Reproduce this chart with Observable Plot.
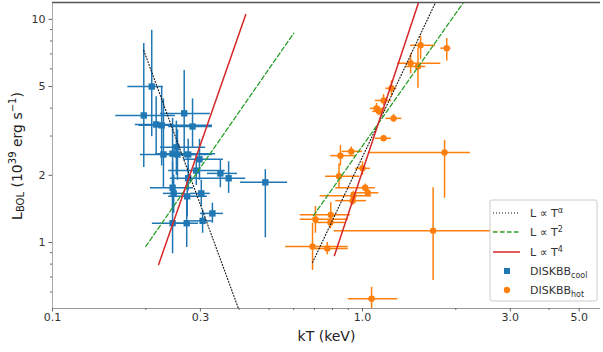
<!DOCTYPE html>
<html><head><meta charset="utf-8">
<script src="https://cdn.jsdelivr.net/npm/d3@7"></script>
<script src="https://cdn.jsdelivr.net/npm/@observablehq/plot@0.6"></script>
<style>body{margin:0;background:#fff;} svg{display:block;}</style>
</head><body><div id="chart"></div>
<script>
// ---- DISKBB cool (blue squares) ----
const coolKT   = [0.209,0.197,0.216,0.225,0.266,0.283,0.228,0.244,0.251,0.253,0.274,0.298,0.291,0.274,0.348,0.370,0.486,0.244,0.246,0.272,0.302,0.328,0.244,0.271,0.305];
const coolL    = [5.00,3.71,3.38,3.35,3.79,3.31,2.48,2.50,2.67,2.48,2.48,2.36,2.10,1.94,2.04,1.94,1.86,1.76,1.66,1.61,1.66,1.35,1.22,1.22,1.25];
const coolKTlo = [0.175,0.160,0.185,0.190,0.223,0.237,0.192,0.215,0.223,0.228,0.249,0.265,0.237,0.240,0.316,0.328,0.404,0.207,0.228,0.237,0.279,0.300,0.210,0.249,0.279];
const coolKThi = [0.228,0.249,0.245,0.328,0.323,0.328,0.244,0.336,0.312,0.289,0.328,0.356,0.361,0.328,0.395,0.420,0.573,0.285,0.268,0.316,0.323,0.356,0.273,0.296,0.328];
const coolLlo  = [2.98,2.17,2.50,2.20,2.40,2.67,1.76,1.70,2.00,1.90,2.10,1.90,1.80,1.70,1.76,1.66,1.05,1.40,1.35,1.30,1.45,1.22,0.89,0.95,1.10];
const coolLhi  = [8.93,7.80,4.50,5.00,5.90,4.40,4.40,3.60,3.50,3.20,2.90,2.90,2.50,2.20,2.33,2.30,2.12,2.30,2.00,2.00,1.90,1.50,1.80,1.60,1.40];

// ---- DISKBB hot (orange circles) ----
const hotKT   = [1.54,1.87,1.43,1.51,1.24,1.17,1.11,1.13,1.26,1.17,0.849,0.92,1.84,1.00,0.84,1.02,1.04,0.935,0.93,0.79,0.705,0.788,1.69,0.69,0.77,1.07];
const hotL    = [7.65,7.43,6.36,6.15,4.91,4.33,3.99,3.87,3.60,2.93,2.45,2.56,2.53,2.15,1.98,1.76,1.67,1.62,1.54,1.33,1.27,1.23,1.13,0.96,0.94,0.56];
const hotKTlo = [1.43,1.79,1.30,1.38,1.19,1.10,1.06,1.08,1.19,1.10,0.79,0.86,1.05,0.95,0.76,0.82,0.92,0.73,0.82,0.63,0.63,0.70,0.81,0.565,0.70,0.90];
const hotKThi = [1.72,1.93,1.79,1.60,1.29,1.24,1.19,1.18,1.34,1.24,0.95,1.00,2.23,1.06,0.98,1.10,1.13,1.07,1.03,0.915,0.90,0.88,2.90,0.90,0.90,1.30];
const hotLlo  = [6.60,6.50,5.70,4.91,4.50,4.10,3.80,3.70,3.45,2.85,2.20,2.45,1.58,2.00,1.74,1.70,1.60,1.55,1.47,1.19,1.10,1.15,0.676,0.749,0.88,0.49];
const hotLhi  = [8.40,8.20,7.00,7.43,5.30,4.60,4.20,4.05,3.75,3.02,2.72,2.68,2.87,2.30,2.25,1.83,1.74,1.70,1.60,1.51,1.45,1.32,1.76,1.22,1.00,0.63];

// ---- model lines (endpoints: [kT, L]) ----
const alphaCool = [[0.197,7.26],[0.398,0.506]];
const t2Cool    = [[0.200,0.96],[0.600,8.66]];
const t4Cool    = [[0.220,0.797],[0.420,10.5]];
const alphaHot  = [[0.690,0.813],[1.720,11.9]];
const t2Hot     = [[0.695,1.32],[2.117,11.9]];
const t4Hot     = [[0.812,0.874],[1.517,11.9]];

// ---- ticks ----
const xMajor = [0.1,0.3,1,3,5];
const xMajorLabels = ["0.1","0.3","1.0","3.0","5.0"];
const xMinor = [0.2,0.4,0.5,0.6,0.7,0.8,0.9,2,4];
const yMajor = [1,2,5,10];
const yMajorLabels = ["1","2","5","10"];
const yMinor = [0.6,0.7,0.8,0.9,3,4,6,7,8,9];

const xLabel = "kT (keV)";
const legendItems = [
  {base:"L ∝ T", script:"α", kind:"sup"},
  {base:"L ∝ T", script:"2", kind:"sup"},
  {base:"L ∝ T", script:"4", kind:"sup"},
  {base:"DISKBB", script:"cool", kind:"sub"},
  {base:"DISKBB", script:"hot", kind:"sub"}
];

const BLUE = "#1f77b4", ORANGE = "#ff7f0e", GREEN = "#2ca02c", RED = "#d62728";

const rows = (kt, l, klo, khi, llo, lhi) => kt.map((k,i)=>({kT:k, L:l[i], kTlo:klo[i], kThi:khi[i], Llo:llo[i], Lhi:lhi[i]}));
const cool = rows(coolKT, coolL, coolKTlo, coolKThi, coolLlo, coolLhi);
const hot  = rows(hotKT, hotL, hotKTlo, hotKThi, hotLlo, hotLhi);

const xTicks = xMajor.map((v,i)=>({v, label: xMajorLabels[i]}));
const yTicks = yMajor.map((v,i)=>({v, label: yMajorLabels[i]}));

const lineMark = (pts, opts) => Plot.line(pts, {x: d=>d[0], y: d=>d[1], clip: true, ...opts});

const plot = Plot.plot({
  width: 603, height: 352,
  marginLeft: 52, marginRight: 3, marginTop: 2, marginBottom: 44,
  style: {fontFamily: "DejaVu Sans", background: "white", color: "#333"},
  x: {type: "log", domain: [0.1, 5.86], label: null},
  y: {type: "log", domain: [0.506, 11.9], label: null},
  marks: [
    Plot.ruleX(cool, {x:"kT", y1:"Llo", y2:"Lhi", stroke: BLUE, strokeWidth: 1.5, clip: true}),
    Plot.ruleY(cool, {y:"L", x1:"kTlo", x2:"kThi", stroke: BLUE, strokeWidth: 1.5, clip: true}),
    Plot.dot(cool, {x:"kT", y:"L", symbol:"square", r: 3.6, fill: BLUE, stroke: "none"}),
    Plot.ruleX(hot, {x:"kT", y1:"Llo", y2:"Lhi", stroke: ORANGE, strokeWidth: 1.5, clip: true}),
    Plot.ruleY(hot, {y:"L", x1:"kTlo", x2:"kThi", stroke: ORANGE, strokeWidth: 1.5, clip: true}),
    Plot.dot(hot, {x:"kT", y:"L", symbol:"circle", r: 3.2, fill: ORANGE, stroke: "none"}),
    lineMark(alphaCool, {stroke:"#111", strokeWidth: 1.1, strokeDasharray: "1,2"}),
    lineMark(alphaHot,  {stroke:"#111", strokeWidth: 1.1, strokeDasharray: "1,2"}),
    lineMark(t2Cool, {stroke: GREEN, strokeWidth: 1.3, strokeDasharray: "4.5,2.5"}),
    lineMark(t2Hot,  {stroke: GREEN, strokeWidth: 1.3, strokeDasharray: "4.5,2.5"}),
    lineMark(t4Cool, {stroke: RED, strokeWidth: 1.5}),
    lineMark(t4Hot,  {stroke: RED, strokeWidth: 1.5}),
    Plot.ruleX([0.1], {stroke: "#aaa"}),
    Plot.ruleY([0.506], {stroke: "#999"}),
    Plot.ruleY([11.9], {stroke: "#555", strokeWidth: 1.5}),
    Plot.axisX(xMajor, {tickSize: 3.5, tickFormat: () => "", label: null, stroke: "#666"}),
    Plot.axisX(xMinor, {tickSize: 2, tickFormat: () => "", label: null, stroke: "#666"}),
    Plot.axisY(yMajor, {tickSize: 3.5, tickFormat: () => "", label: null, stroke: "#666"}),
    Plot.axisY(yMinor, {tickSize: 2, tickFormat: () => "", label: null, stroke: "#666"}),
    Plot.text(xTicks, {x: "v", frameAnchor: "bottom", dy: 12, text: "label", fontSize: 11, fill: "#333"}),
    Plot.text(yTicks, {y: "v", frameAnchor: "left", dx: -7, textAnchor: "end", text: "label", fontSize: 11, fill: "#333"}),
    Plot.text([xLabel], {frameAnchor: "bottom", dy: 32, text: d => d, fontSize: 14, fill: "#222"})
  ]
});

document.getElementById("chart").appendChild(plot);
const svg = d3.select(plot);

// y-axis label with sub/superscripts
const yl = svg.append("text")
  .attr("transform", "translate(17,156) rotate(-90)")
  .attr("text-anchor", "middle")
  .attr("dominant-baseline", "central")
  .attr("fill", "#222")
  .style("font-family", "DejaVu Sans")
  .style("font-size", "14px");
yl.append("tspan").text("L");
yl.append("tspan").attr("dy", 3).style("font-size", "10px").text("BOL");
yl.append("tspan").attr("dy", -3).text(" (10");
yl.append("tspan").attr("dy", -5).style("font-size", "10px").text("39");
yl.append("tspan").attr("dy", 5).text(" erg s");
yl.append("tspan").attr("dy", -5).style("font-size", "10px").text("−1");
yl.append("tspan").attr("dy", 5).text(")");

// legend
const lg = svg.append("g").style("font-family", "DejaVu Sans").attr("text-anchor", "start");
lg.append("rect").attr("x", 490).attr("y", 200).attr("width", 107).attr("height", 101)
  .attr("rx", 2).attr("fill", "white").attr("fill-opacity", 0.85).attr("stroke", "#ccc");
const rowY = [213, 232, 252, 271, 290];
const lineStyles = [
  {stroke: "#111", dash: "1,2", w: 1.1},
  {stroke: GREEN, dash: "4.5,2.5", w: 1.3},
  {stroke: RED, dash: null, w: 1.5}
];
lineStyles.forEach((s, i) => {
  lg.append("line").attr("x1", 493).attr("x2", 520).attr("y1", rowY[i]).attr("y2", rowY[i])
    .attr("stroke", s.stroke).attr("stroke-width", s.w).attr("stroke-dasharray", s.dash);
});
lg.append("rect").attr("x", 504).attr("y", rowY[3] - 3).attr("width", 6).attr("height", 6).attr("fill", BLUE);
lg.append("circle").attr("cx", 507).attr("cy", rowY[4]).attr("r", 3.2).attr("fill", ORANGE);
legendItems.forEach((it, i) => {
  const t = lg.append("text").attr("x", 530).attr("y", rowY[i] + 4).attr("text-anchor", "start")
    .attr("fill", "#333").style("font-size", "11px");
  t.append("tspan").text(it.base);
  t.append("tspan").attr("dy", it.kind === "sup" ? -4 : 2.5).style("font-size", "8px").text(it.script);
});
</script>
</body></html>
